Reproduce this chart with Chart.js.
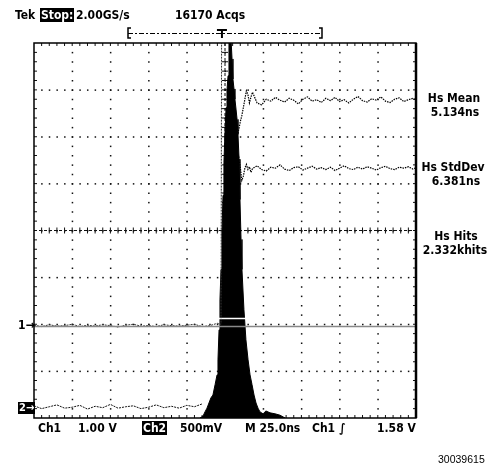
<!DOCTYPE html>
<html>
<head>
<meta charset="utf-8">
<title>Hs timing histogram</title>
<script src="https://cdn.jsdelivr.net/npm/chart.js"></script>
<style>
body { margin: 0; background: #fff; }
#wrap { position: relative; width: 493px; height: 467px; }
.t { position: absolute; font: bold 12px 'DejaVu Sans Condensed', 'DejaVu Sans', sans-serif; line-height: 14px; white-space: nowrap; color: #000; }
.inv { background: #000; color: #fff; padding: 0 1px; }
.r { text-align: center; width: 74px; }
.fig { position: absolute; font: 10.5px 'Liberation Sans', Arial, sans-serif; line-height: 12px; }
</style>
</head>
<body>
<div id="wrap">
<canvas id="scope" width="493" height="467"></canvas>

<div class="t" style="left:15px;top:8px">Tek</div>
<div class="t inv" style="left:40px;top:8px">Stop:</div>
<div class="t" style="left:76px;top:8px">2.00GS/s</div>
<div class="t" style="left:175px;top:8px">16170 Acqs</div>

<div class="t r" style="left:417px;top:91px">Hs Mean</div>
<div class="t r" style="left:418px;top:105px">5.134ns</div>
<div class="t r" style="left:416px;top:160px">Hs StdDev</div>
<div class="t r" style="left:419px;top:174px">6.381ns</div>
<div class="t r" style="left:419px;top:229px">Hs Hits</div>
<div class="t r" style="left:418px;top:243px">2.332khits</div>

<div class="t" style="left:18px;top:318px">1→</div>
<div class="t inv" style="left:18px;top:402px;font-size:11px;line-height:12px">2→</div>

<div class="t" style="left:38px;top:421px">Ch1</div>
<div class="t" style="left:78px;top:421px">1.00 V</div>
<div class="t inv" style="left:142px;top:421px">Ch2</div>
<div class="t" style="left:180px;top:421px">500mV</div>
<div class="t" style="left:245px;top:421px">M 25.0ns</div>
<div class="t" style="left:312px;top:421px">Ch1 ∫</div>
<div class="t" style="left:377px;top:421px">1.58 V</div>

<div class="fig" style="left:438px;top:453px">30039615</div>
</div>

<script>
// time axis in ns (25 ns/div), vertical axis in divisions
var histT = [-16.4, -14.4, -13.1, -11.8, -10.5, -9.2, -7.9, -6.5, -5.2, -4.6, -3.9, -3.3, -2.6, -2.0, -1.3, -0.7, 0, 0.7, 1.3, 2.0,
             2.6, 3.3, 3.9, 4.6, 5.2, 5.9, 6.5, 7.2, 7.9, 8.5, 9.2, 9.8, 10.5, 11.1, 12.4, 13.7, 15.1, 16.4, 17.7, 19.0,
             20.3, 21.6, 22.9, 24.9, 26.8, 29.5, 32.7, 36.0, 39.3];
var histH = [0, 0.04, 0.13, 0.21, 0.32, 0.43, 0.49, 0.71, 0.92, 1.24, 1.88, 2.52, 3.17, 3.95, 4.75, 5.45, 6.10, 6.62, 7.00, 7.30,
             8.5, 8.5, 8.5, 7.66, 7.23, 7.02, 6.8, 6.59, 6.37, 6.05, 5.52, 4.66, 3.81, 3.17, 2.31, 1.67, 1.24, 0.92, 0.71, 0.49,
             0.32, 0.21, 0.13, 0.09, 0.15, 0.11, 0.09, 0.06, 0];

var ch1T = [-125, -120, -115, -110, -105, -100, -95, -90, -85, -80, -75, -70, -65, -60, -55, -50, -45, -40, -35, -30,
            -25, -20, -15, -10, -5, -2.6, -2.2];
var ch1V = [-2.02, -2.05, -2.01, -2.04, -2.03, -2.00, -2.05, -2.02, -2.04, -2.01, -2.03, -2.06, -2.02, -2.00, -2.04, -2.03,
            -2.05, -2.01, -2.03, -2.04, -2.02, -2.00, -2.05, -2.03, -1.98, -2.0, 4.6];

var ch2T = [-125, -120, -115, -110, -105, -100, -95, -90, -85, -80, -75, -70, -65, -60, -55, -50, -45, -40, -35, -30,
            -25, -20, -15];
var ch2V = [-3.74, -3.80, -3.76, -3.72, -3.79, -3.77, -3.73, -3.81, -3.75, -3.78, -3.71, -3.79, -3.76, -3.74, -3.80, -3.77,
            -3.72, -3.78, -3.75, -3.79, -3.73, -3.76, -3.70];

var statT = [8, 9, 10, 11, 12, 13, 14, 15, 16, 17, 18, 21, 24, 27, 30, 33, 36, 39, 42, 45, 48, 51, 54, 57, 60, 63, 66, 69,
             72, 75, 78, 81, 84, 87, 90, 93, 96, 99, 102, 105, 108, 111, 114, 117, 120, 123, 125];
var meanV = [2.02, 2.15, 2.32, 2.45, 2.62, 2.80, 2.98, 2.90, 2.72, 2.85, 2.95, 2.72, 2.68, 2.80, 2.76, 2.84, 2.78, 2.74,
             2.82, 2.78, 2.70, 2.80, 2.85, 2.76, 2.79, 2.73, 2.82, 2.77, 2.84, 2.75, 2.79, 2.72, 2.80, 2.86, 2.77, 2.74,
             2.81, 2.78, 2.85, 2.76, 2.73, 2.80, 2.83, 2.75, 2.79, 2.82, 2.78];
var sdevV = [1.28, 1.56, 1.35, 1.07, 1.16, 1.33, 1.41, 1.30, 1.36, 1.24, 1.32, 1.38, 1.30, 1.27, 1.35, 1.33, 1.40, 1.31,
             1.28, 1.34, 1.36, 1.29, 1.33, 1.37, 1.31, 1.34, 1.30, 1.35, 1.28, 1.33, 1.38, 1.32, 1.30, 1.35, 1.31, 1.36,
             1.33, 1.29, 1.34, 1.37, 1.32, 1.30, 1.35, 1.33, 1.36, 1.31, 1.34];

// horizontal cursor levels (div) and trigger time (ns)
var cursorLevels = [-1.86, -2.03];
var triggerT = -2;

function pairs(xs, ys) {
    var out = [];
    for (var i = 0; i < xs.length; i++) out.push({ x: xs[i], y: ys[i] });
    return out;
}

var graticule = {
    id: 'graticule',
    beforeDatasetsDraw: function (chart) {
        var ctx = chart.ctx, a = chart.chartArea, sx = chart.scales.x, sy = chart.scales.y;
        var xs = [], ys = [], i, j;
        for (i = 0; i <= 50; i++) xs.push(sx.getPixelForValue(-125 + i * 5));
        for (j = 0; j <= 40; j++) ys.push(sy.getPixelForValue(-4 + j * 0.2));
        ctx.save();
        ctx.fillStyle = '#111';
        for (i = 5; i < 50; i += 5)
            for (j = 1; j < 40; j++) ctx.fillRect(xs[i] - 0.5, ys[j] - 0.5, 1.5, 1.5);
        for (j = 5; j < 40; j += 5)
            for (i = 1; i < 50; i++) ctx.fillRect(xs[i] - 0.5, ys[j] - 0.5, 1.5, 1.5);
        ctx.strokeStyle = '#111';
        ctx.lineWidth = 1;
        // centre cross, dashed with ticks
        ctx.setLineDash([3, 2]);
        ctx.beginPath();
        ctx.moveTo(a.left, ys[20]); ctx.lineTo(a.right, ys[20]);
        ctx.moveTo(xs[25], a.top); ctx.lineTo(xs[25], a.bottom);
        ctx.stroke();
        ctx.setLineDash([]);
        ctx.beginPath();
        for (i = 1; i < 50; i++) {
            ctx.moveTo(xs[i], ys[20] - 3); ctx.lineTo(xs[i], ys[20] + 3);
            ctx.moveTo(xs[i], a.top); ctx.lineTo(xs[i], a.top + 3);
            ctx.moveTo(xs[i], a.bottom); ctx.lineTo(xs[i], a.bottom - 3);
        }
        for (j = 1; j < 40; j++) {
            ctx.moveTo(xs[25] - 3, ys[j]); ctx.lineTo(xs[25] + 3, ys[j]);
            ctx.moveTo(a.left, ys[j]); ctx.lineTo(a.left + 3, ys[j]);
            ctx.moveTo(a.right, ys[j]); ctx.lineTo(a.right - 3, ys[j]);
        }
        ctx.stroke();
        ctx.restore();
    },
    afterDatasetsDraw: function (chart) {
        var ctx = chart.ctx, a = chart.chartArea, sy = chart.scales.y, sx = chart.scales.x;
        ctx.save();
        // cursors: first one inverts over the histogram
        var y0 = Math.round(sy.getPixelForValue(cursorLevels[0])) + 0.5;
        ctx.globalCompositeOperation = 'difference';
        ctx.strokeStyle = '#fff';
        ctx.lineWidth = 1.5;
        ctx.beginPath(); ctx.moveTo(a.left, y0); ctx.lineTo(a.right, y0); ctx.stroke();
        ctx.globalCompositeOperation = 'source-over';
        var y1 = Math.round(sy.getPixelForValue(cursorLevels[1])) + 0.5;
        ctx.strokeStyle = '#888';
        ctx.beginPath(); ctx.moveTo(a.left, y1); ctx.lineTo(a.right, y1); ctx.stroke();
        // frame
        ctx.strokeStyle = '#000';
        ctx.lineWidth = 1.5;
        ctx.strokeRect(a.left, a.top, a.right - a.left, a.bottom - a.top);
        ctx.lineWidth = 2.5;
        ctx.beginPath(); ctx.moveTo(a.right, a.top); ctx.lineTo(a.right, a.bottom); ctx.stroke();
        // record bracket and trigger marker
        var tx = sx.getPixelForValue(triggerT);
        var bl = 128, br = 322, by = 33;
        ctx.lineWidth = 1.5;
        ctx.beginPath();
        ctx.moveTo(bl + 3, by - 5); ctx.lineTo(bl, by - 5); ctx.lineTo(bl, by + 5); ctx.lineTo(bl + 3, by + 5);
        ctx.moveTo(br - 3, by - 5); ctx.lineTo(br, by - 5); ctx.lineTo(br, by + 5); ctx.lineTo(br - 3, by + 5);
        ctx.stroke();
        ctx.lineWidth = 1;
        ctx.setLineDash([5, 2, 2, 2]);
        ctx.beginPath(); ctx.moveTo(bl, by + 0.5); ctx.lineTo(br, by + 0.5); ctx.stroke();
        ctx.setLineDash([]);
        ctx.lineWidth = 2;
        ctx.beginPath();
        ctx.moveTo(tx - 5, by - 3); ctx.lineTo(tx + 5, by - 3);
        ctx.moveTo(tx, by - 3); ctx.lineTo(tx, by + 5);
        ctx.stroke();
        ctx.restore();
    }
};

new Chart(document.getElementById('scope'), {
    type: 'line',
    data: {
        datasets: [
            { label: 'Hs', data: pairs(histT, histH), yAxisID: 'yh', borderColor: '#000', backgroundColor: '#000',
              borderWidth: 1, fill: 'origin', pointRadius: 0, order: 3 },
            { label: 'Ch1', data: pairs(ch1T, ch1V), borderColor: '#333', borderWidth: 1, borderDash: [2, 1],
              fill: false, pointRadius: 0, order: 1 },
            { label: 'Ch2', data: pairs(ch2T, ch2V), borderColor: '#111', borderWidth: 1, borderDash: [2, 1],
              fill: false, pointRadius: 0, order: 1 },
            { label: 'Hs Mean', data: pairs(statT, meanV), borderColor: '#000', borderWidth: 1.2, borderDash: [1.5, 1],
              fill: false, pointRadius: 0, order: 2 },
            { label: 'Hs StdDev', data: pairs(statT, sdevV), borderColor: '#000', borderWidth: 1.2, borderDash: [1.5, 1],
              fill: false, pointRadius: 0, order: 2 }
        ]
    },
    options: {
        responsive: false,
        animation: false,
        events: [],
        layout: { padding: { left: 34, right: 77, top: 43, bottom: 49 } },
        plugins: { legend: { display: false }, tooltip: { enabled: false } },
        scales: {
            x: { type: 'linear', min: -125, max: 125, display: false },
            y: { min: -4, max: 4, display: false },
            yh: { min: 0, max: 8, display: false }
        }
    },
    plugins: [graticule]
});
</script>
</body>
</html>
